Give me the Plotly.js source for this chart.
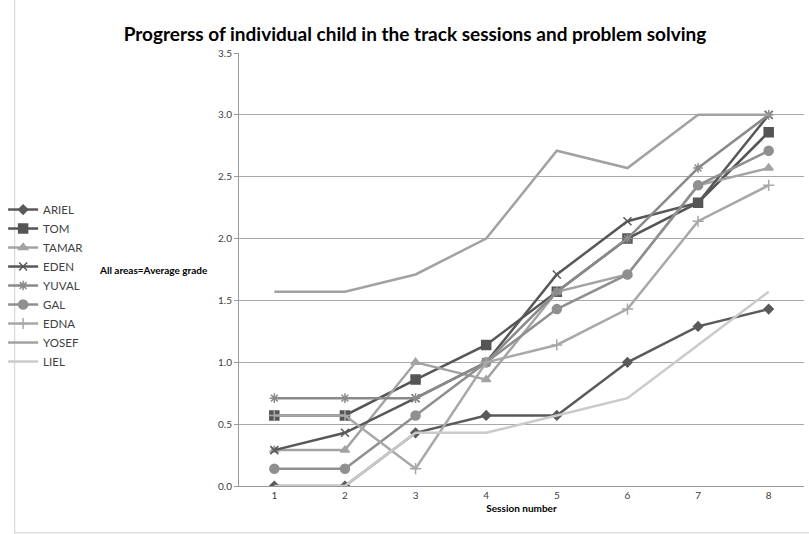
<!DOCTYPE html>
<html>
<head>
<meta charset="utf-8">
<script src="https://cdn.plot.ly/plotly-3.0.1.min.js"></script>
<style>html,body{margin:0;padding:0;background:#fff;}#chart{width:809px;height:534px;}</style>
</head>
<body>
<div id="chart"></div>
<script>
const sessions = [1, 2, 3, 4, 5, 6, 7, 8];
const ARIEL = [0, 0, 0.43, 0.57, 0.57, 1.0, 1.29, 1.43];
const TOM = [0.57, 0.57, 0.86, 1.14, 1.57, 2.0, 2.29, 2.86];
const TAMAR = [0.29, 0.29, 1.0, 0.86, 1.57, 1.71, 2.43, 2.57];
const EDEN = [0.29, 0.43, 0.71, 1.0, 1.71, 2.14, 2.29, 3.0];
const YUVAL = [0.71, 0.71, 0.71, 1.0, 1.57, 2.0, 2.57, 3.0];
const GAL = [0.14, 0.14, 0.57, 1.0, 1.43, 1.71, 2.43, 2.71];
const EDNA = [0.57, 0.57, 0.14, 1.0, 1.14, 1.43, 2.14, 2.43];
const YOSEF = [1.57, 1.57, 1.71, 2.0, 2.71, 2.57, 3.0, 3.0];
const LIEL = [0, 0, 0.43, 0.43, 0.57, 0.71, 1.14, 1.57];
const yTicks = [0, 0.5, 1.0, 1.5, 2.0, 2.5, 3.0, 3.5];
const yTickText = ["0.0", "0.5", "1.0", "1.5", "2.0", "2.5", "3.0", "3.5"];

const series = [
  {name: "ARIEL", y: ARIEL, color: "#5a5a5a", symbol: "diamond", size: 7},
  {name: "TOM", y: TOM, color: "#555555", symbol: "square", size: 9},
  {name: "TAMAR", y: TAMAR, color: "#a3a3a3", symbol: "triangle-up", size: 8},
  {name: "EDEN", y: EDEN, color: "#585858", symbol: "x-thin-open", size: 8},
  {name: "YUVAL", y: YUVAL, color: "#8a8a8a", symbol: "asterisk-open", size: 8},
  {name: "GAL", y: GAL, color: "#8f8f8f", symbol: "circle", size: 9},
  {name: "EDNA", y: EDNA, color: "#a8a8a8", symbol: "cross-thin-open", size: 8},
  {name: "YOSEF", y: YOSEF, color: "#a2a2a2", symbol: "line-ew", size: 0},
  {name: "LIEL", y: LIEL, color: "#cacaca", symbol: "line-ew", size: 0}
];

const traces = series.map(s => ({
  type: "scatter",
  mode: s.size > 0 ? "lines+markers" : "lines",
  name: s.name,
  x: sessions,
  y: s.y,
  line: {color: s.color, width: 2.5},
  marker: {color: s.color, symbol: s.symbol, size: s.size, line: {color: s.color, width: 1.5}}
}));

const font = "Lato, 'Open Sans', sans-serif";
const layout = {
  width: 809, height: 534,
  margin: {l: 238, r: 5, t: 53, b: 48},
  paper_bgcolor: "#ffffff", plot_bgcolor: "#ffffff",
  font: {family: font, size: 11, color: "#404040"},
  title: {text: "<b>Progrerss of individual child in the track sessions and problem solving</b>",
          font: {family: font, size: 19, color: "#000"}, x: 0.513, xanchor: "center", y: 0.936, yanchor: "middle"},
  showlegend: true,
  legend: {x: -0.415, xanchor: "left", y: 0.672, yanchor: "top", font: {family: font, size: 11.5, color: "#404040"},
           tracegroupgap: 0, itemwidth: 30, bgcolor: "rgba(0,0,0,0)"},
  xaxis: {range: [0.5, 8.5], tickvals: sessions, ticktext: sessions.map(String), showgrid: false, zeroline: false,
          showline: true, linecolor: "#9a9a9a", linewidth: 1, ticks: "", tickfont: {size: 10, color: "#404040"},
          title: {text: "<b>Session number</b>", font: {family: font, size: 10, color: "#000"}, standoff: 4}},
  yaxis: {range: [0, 3.5], tickvals: yTicks, ticktext: yTickText, showgrid: true, gridcolor: "#a8a8a8", gridwidth: 1,
          zeroline: false, showline: true, linecolor: "#9a9a9a", linewidth: 1, ticks: "outside", ticklen: 4,
          tickcolor: "#9a9a9a", tickfont: {size: 10, color: "#404040"}},
  annotations: [{text: "<b>All areas=Average grade</b>", xref: "paper", yref: "paper", x: -0.152, y: 0.5,
                 xanchor: "center", yanchor: "middle", showarrow: false, font: {family: font, size: 10, color: "#000"}}],
  shapes: [
    {type: "line", xref: "paper", yref: "paper", x0: -0.397, x1: -0.397, y0: -0.11, y1: 1.13, line: {color: "#d0d0d0", width: 1}},
    {type: "line", xref: "paper", yref: "paper", x0: -0.397, x1: 1.01, y0: -0.108, y1: -0.108, line: {color: "#d0d0d0", width: 1}}
  ]
};

Plotly.newPlot("chart", traces, layout, {displayModeBar: false, staticPlot: true});
</script>
</body>
</html>
